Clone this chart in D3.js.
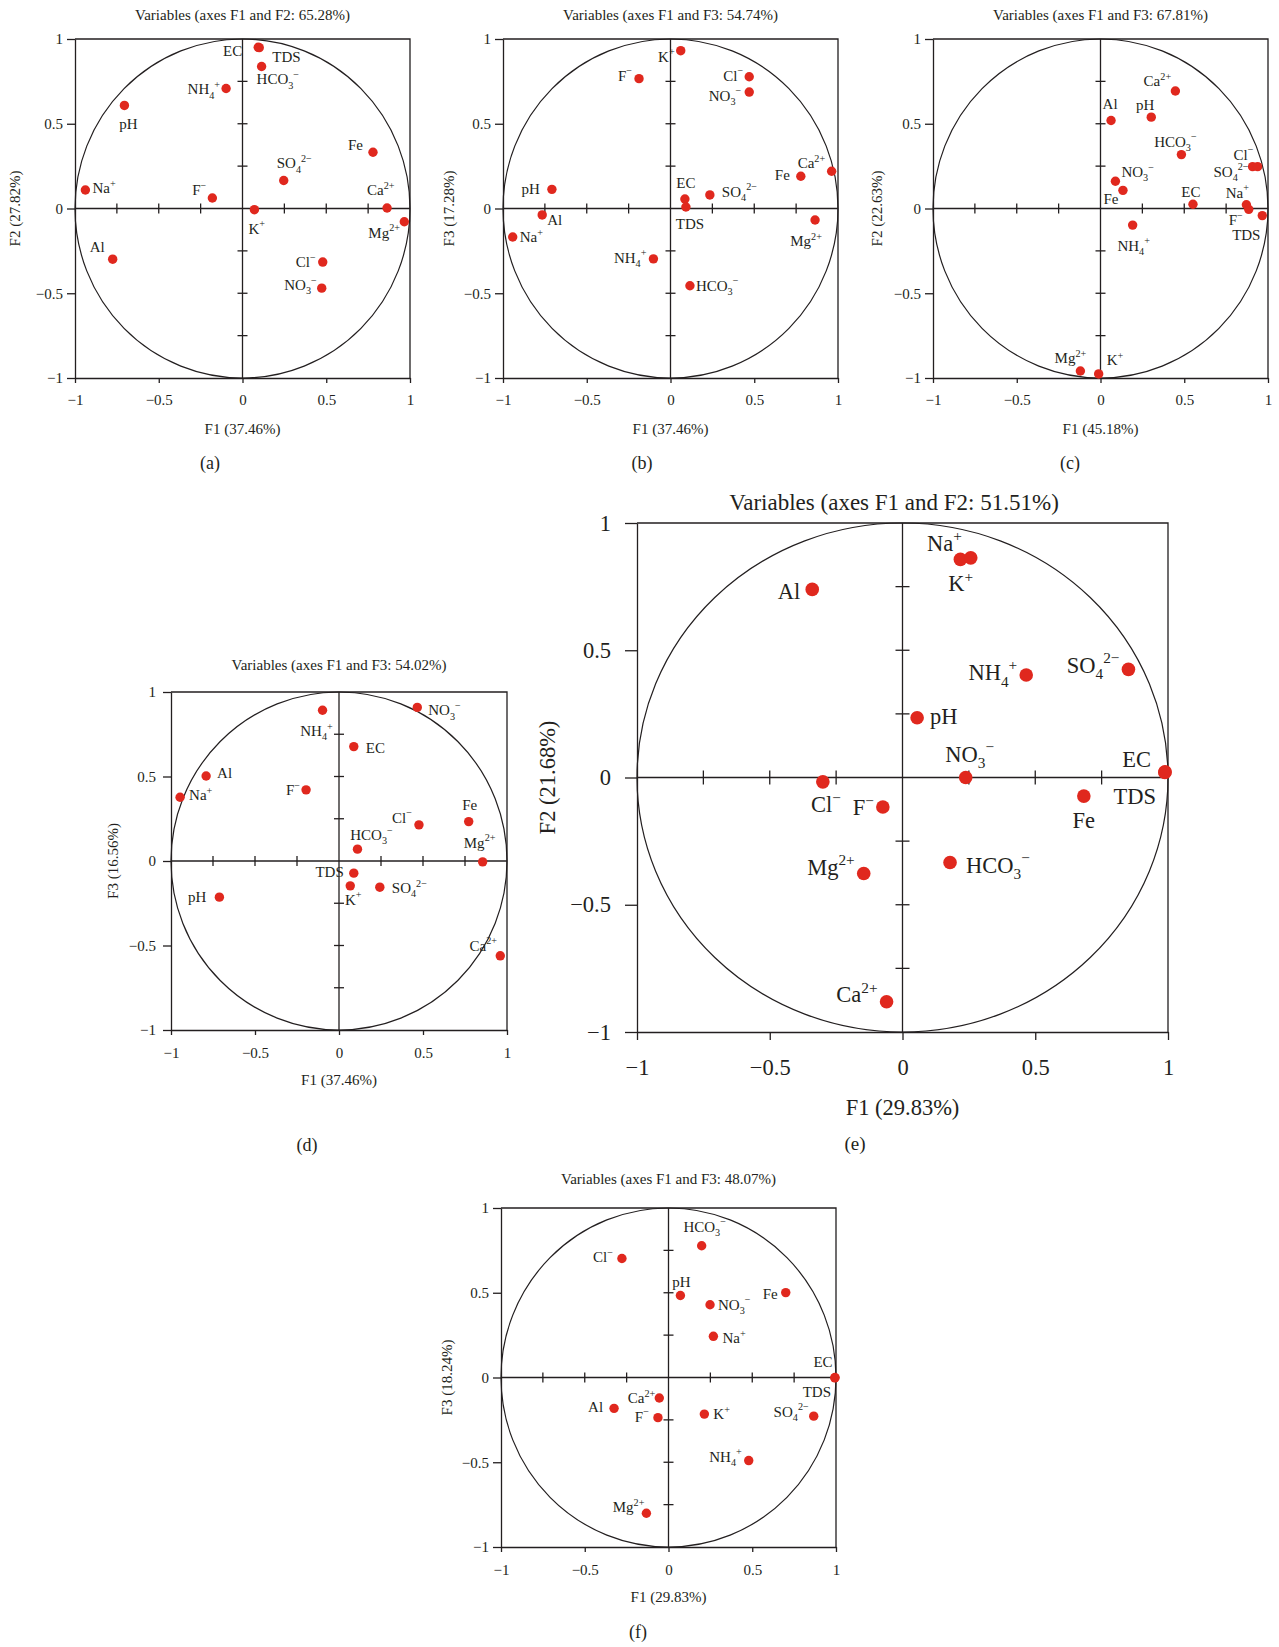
<!DOCTYPE html>
<html><head><meta charset="utf-8">
<script src="https://cdn.jsdelivr.net/npm/d3@7"></script>
<style>
body{margin:0;background:#fff}
svg{display:block;background:#fff}
text{font-family:"Liberation Serif","DejaVu Serif",serif;fill:#231f20}
</style>
</head><body>
<svg id="chart" width="1279" height="1647"></svg>
<script>
// ---------- shared axis values ----------
const tickValues = [-1, -0.5, 0, 0.5, 1];
const tickLabels = ["\u22121", "\u22120.5", "0", "0.5", "1"];
const minorTicks = [-0.75, -0.5, -0.25, 0.25, 0.5, 0.75];

// ---------- panel (a) ----------
const titleA = "Variables (axes F1 and F2: 65.28%)";
const xTitleA = "F1 (37.46%)", yTitleA = "F2 (27.82%)";
const namesA = ["EC","TDS","HCO3−","NH4+","pH","Fe","SO42−","Na+","F−","Ca2+","K+","Mg2+","Al","Cl−","NO3−"];
const f1A = [0.094,0.100,0.114,-0.098,-0.705,0.779,0.246,-0.938,-0.180,0.863,0.071,0.966,-0.775,0.479,0.473];
const f2A = [0.951,0.949,0.838,0.708,0.608,0.332,0.165,0.109,0.062,0.003,-0.007,-0.078,-0.299,-0.316,-0.470];

// ---------- panel (b) ----------
const titleB = "Variables (axes F1 and F3: 54.74%)";
const xTitleB = "F1 (37.46%)", yTitleB = "F3 (17.28%)";
const namesB = ["K+","F−","Cl−","NO3−","Ca2+","Fe","pH","EC","SO42−","TDS","Al","Na+","Mg2+","NH4+","HCO3−"];
const f1B = [0.061,-0.188,0.470,0.470,0.962,0.778,-0.708,0.086,0.235,0.092,-0.766,-0.942,0.863,-0.102,0.116];
const f3B = [0.931,0.766,0.777,0.687,0.220,0.190,0.113,0.056,0.080,0.009,-0.038,-0.168,-0.068,-0.297,-0.456];

// ---------- panel (c) ----------
const titleC = "Variables (axes F1 and F3: 67.81%)";
const xTitleC = "F1 (45.18%)", yTitleC = "F2 (22.63%)";
const namesC = ["Ca2+","Al","pH","HCO3−","Cl−","SO42−","NO3−","Fe","EC","Na+","F−","TDS","NH4+","Mg2+","K+"];
const f1C = [0.447,0.063,0.303,0.483,0.908,0.938,0.089,0.134,0.552,0.871,0.885,0.966,0.192,-0.120,-0.011];
const f2C = [0.693,0.519,0.539,0.318,0.247,0.247,0.161,0.107,0.025,0.022,-0.005,-0.042,-0.098,-0.959,-0.976];

// ---------- panel (d) ----------
const titleD = "Variables (axes F1 and F3: 54.02%)";
const xTitleD = "F1 (37.46%)", yTitleD = "F3 (16.56%)";
const namesD = ["NH4+","NO3−","EC","Al","Na+","F−","Fe","Cl−","HCO3−","Mg2+","TDS","K+","SO42−","pH","Ca2+"];
const f1D = [-0.098,0.466,0.088,-0.791,-0.946,-0.196,0.772,0.476,0.110,0.855,0.088,0.067,0.243,-0.712,0.960];
const f3D = [0.892,0.909,0.677,0.503,0.377,0.421,0.233,0.214,0.070,-0.005,-0.072,-0.147,-0.155,-0.214,-0.561];

// ---------- panel (e) ----------
const titleE = "Variables (axes F1 and F2: 51.51%)";
const xTitleE = "F1 (29.83%)", yTitleE = "F2 (21.68%)";
const namesE = ["Na+","K+","Al","SO42−","NH4+","pH","NO3−","EC","TDS","Fe","Cl−","F−","HCO3−","Mg2+","Ca2+"];
const f1E = [0.218,0.257,-0.340,0.851,0.466,0.055,0.238,0.989,0.988,0.683,-0.300,-0.074,0.179,-0.146,-0.060];
const f2E = [0.857,0.863,0.739,0.425,0.403,0.235,0.000,0.022,0.020,-0.073,-0.017,-0.116,-0.334,-0.377,-0.881];

// ---------- panel (f) ----------
const titleF = "Variables (axes F1 and F3: 48.07%)";
const xTitleF = "F1 (29.83%)", yTitleF = "F3 (18.24%)";
const namesF = ["HCO3−","Cl−","pH","Fe","NO3−","Na+","EC","TDS","Ca2+","Al","F−","K+","SO42−","NH4+","Mg2+"];
const f1F = [0.198,-0.278,0.071,0.700,0.248,0.268,0.994,0.993,-0.055,-0.325,-0.063,0.214,0.867,0.479,-0.132];
const f3F = [0.777,0.702,0.484,0.501,0.429,0.243,0.000,-0.002,-0.121,-0.182,-0.237,-0.216,-0.228,-0.490,-0.801];

// ---------- label placement (layout only) ----------
const labelPosA = [[-16,4,"end"],[13,9,"start"],[-5,13,"start"],[-6,1,"end"],[4,19,"middle"],[-10,-7,"end"],[-7,-17,"start"],[7,-2,"start"],[-6,-8,"end"],[-20,-18,"start"],[-6,19,"start"],[-36,11,"start"],[-8,-12,"end"],[-7,0,"end"],[-5,-3,"end"]];
const labelPosB = [[-6,6,"end"],[-7,-3,"end"],[-6,-1,"end"],[-8,4,"end"],[-34,-8,"start"],[-11,-1,"end"],[-12,0,"end"],[1,-16,"middle"],[12,-3,"start"],[4,17,"middle"],[5,5,"start"],[7,0,"start"],[-9,21,"middle"],[-7,-1,"end"],[6,0,"start"]];
const labelPosC = [[-18,-10,"middle"],[-1,-16,"middle"],[-6,-12,"middle"],[-6,-13,"middle"],[-9,-12,"middle"],[-9,5,"end"],[6,-9,"start"],[-12,9,"middle"],[-2,-12,"middle"],[-9,-12,"middle"],[-13,11,"middle"],[-16,19,"middle"],[1,21,"middle"],[-10,-13,"middle"],[8,-14,"start"]];
const labelPosD = [[-6,21,"middle"],[11,3,"start"],[12,1,"start"],[11,-3,"start"],[9,-2,"start"],[-6,0,"end"],[1,-17,"middle"],[-7,-7,"end"],[14,-14,"middle"],[-3,-19,"middle"],[-10,-1,"end"],[3,14,"middle"],[12,1,"start"],[-13,0,"end"],[-17,-10,"middle"]];
const labelPosE = [[-16,-16,"middle"],[-10,26,"middle"],[-12,2,"end"],[-9,-4,"end"],[-9,-2,"end"],[13,-1,"start"],[4,-23,"middle"],[-14,-12,"end"],[-30,24,"middle"],[0,24,"middle"],[3,23,"middle"],[-9,1,"end"],[16,3,"start"],[-9,-6,"end"],[-9,-7,"end"]];
const labelPosF = [[3,-19,"middle"],[-9,-1,"end"],[1,-13,"middle"],[-8,1,"end"],[8,0,"start"],[9,2,"start"],[-12,-15,"middle"],[-18,14,"middle"],[-4,0,"end"],[-11,-1,"end"],[-9,-1,"end"],[9,0,"start"],[-5,-4,"end"],[-7,-4,"end"],[-2,-6,"end"]];

// panel frames
const small = {fs:15, tfs:15, tagfs:18, r:4.7, tl:8, tlb:5, tyGap:12, inner:5};
const layouts = [
  Object.assign({}, small, {x0:75, x1:410, y0:39, y1:378, titleY:15, tickLabY:400, xLabY:429, tagX:210, tagY:463, yLabX:15, tag:"(a)"}),
  Object.assign({}, small, {x0:503, x1:838, y0:39, y1:378, titleY:15, tickLabY:400, xLabY:429, tagX:642, tagY:463, yLabX:449, tag:"(b)"}),
  Object.assign({}, small, {x0:933, x1:1268, y0:39, y1:378, titleY:15, tickLabY:400, xLabY:429, tagX:1070, tagY:463, yLabX:877, tag:"(c)"}),
  Object.assign({}, small, {x0:171, x1:507, y0:692, y1:1030, titleY:665, tickLabY:1053, xLabY:1080, tagX:307, tagY:1145, yLabX:113, tag:"(d)", tyGap:15}),
  {fs:22.5, tfs:23, tagfs:19, r:6.8, tl:12, tlb:8, tyGap:26, inner:7, x0:637, x1:1168, y0:523, y1:1032, titleY:502, titleX:894, tickLabY:1068, xLabY:1108, tagX:855, tagY:1144, yLabX:548, tag:"(e)"},
  Object.assign({}, small, {x0:501, x1:836, y0:1208, y1:1547, titleY:1179, tickLabY:1570, xLabY:1597, tagX:638, tagY:1632, yLabX:447, tag:"(f)"})
];

const panels = [
  [titleA, xTitleA, yTitleA, namesA, f1A, f2A, labelPosA],
  [titleB, xTitleB, yTitleB, namesB, f1B, f3B, labelPosB],
  [titleC, xTitleC, yTitleC, namesC, f1C, f2C, labelPosC],
  [titleD, xTitleD, yTitleD, namesD, f1D, f3D, labelPosD],
  [titleE, xTitleE, yTitleE, namesE, f1E, f2E, labelPosE],
  [titleF, xTitleF, yTitleF, namesF, f1F, f3F, labelPosF]
];

const chem = {
  "Na+": [["Na"],["+","sup"]],
  "K+": [["K"],["+","sup"]],
  "F−": [["F"],["\u2212","sup"]],
  "Cl−": [["Cl"],["\u2212","sup"]],
  "Ca2+": [["Ca"],["2+","sup"]],
  "Mg2+": [["Mg"],["2+","sup"]],
  "NH4+": [["NH"],["4","sub"],["+","sup"]],
  "HCO3−": [["HCO"],["3","sub"],["\u2212","sup"]],
  "NO3−": [["NO"],["3","sub"],["\u2212","sup"]],
  "SO42−": [["SO"],["4","sub"],["2\u2212","sup"]]
};

const INK = "#231f20", DOT = "#e0281e";
const svg = d3.select("#chart");
svg.append("rect").attr("width",1279).attr("height",1647).attr("fill","#fff");

function drawLabel(g, name, x, y, anchor, fs){
  const t = g.append("text").attr("x", x).attr("y", y + 0.33*fs)
    .attr("text-anchor", anchor).attr("font-size", fs);
  const parts = chem[name] || [[name]];
  let prev = "";
  parts.forEach(([s, type]) => {
    const sp = t.append("tspan").text(s);
    if (type === "sub") {
      sp.attr("font-size", fs*0.68).attr("dy", fs*0.28);
    } else if (type === "sup") {
      sp.attr("font-size", fs*0.68).attr("dy", prev === "sub" ? -fs*0.72 : -fs*0.42);
    }
    prev = type || "";
  });
}

function drawPanel(cfg, p){
  const [title, xTitle, yTitle, names, xs, ys, pos] = p;
  const g = svg.append("g");
  const x = d3.scaleLinear().domain([-1,1]).range([cfg.x0, cfg.x1]);
  const y = d3.scaleLinear().domain([-1,1]).range([cfg.y1, cfg.y0]);
  const fmt = d => tickLabels[tickValues.indexOf(d)];

  // top & right frame lines
  g.append("path").attr("d", `M${cfg.x0},${cfg.y0}H${cfg.x1}V${cfg.y1}`)
    .attr("fill","none").attr("stroke",INK).attr("stroke-width",1.3);

  // left axis
  const ga = g.append("g").attr("transform", `translate(${cfg.x0},0)`)
    .call(d3.axisLeft(y).tickValues(tickValues).tickFormat(fmt).tickSizeInner(cfg.tl).tickSizeOuter(0).tickPadding(cfg.tyGap - cfg.tl));
  // bottom axis
  const gb = g.append("g").attr("transform", `translate(0,${cfg.y1})`)
    .call(d3.axisBottom(x).tickValues(tickValues).tickFormat(fmt).tickSizeInner(cfg.tlb).tickSizeOuter(0));
  [ga, gb].forEach(a => {
    a.attr("font-family", null).attr("font-size", null);
    a.selectAll("path,line").attr("stroke", INK).attr("stroke-width", 1.3);
    a.selectAll("text").attr("font-size", cfg.fs).attr("fill", INK);
  });
  gb.selectAll(".tick text").attr("y", cfg.tickLabY - cfg.y1).attr("dy", "0.33em");

  // correlation circle
  g.append("ellipse").attr("cx", x(0)).attr("cy", y(0))
    .attr("rx", x(1) - x(0)).attr("ry", y(-1) - y(0))
    .attr("fill","none").attr("stroke",INK).attr("stroke-width",1.2);

  // zero lines
  g.append("line").attr("x1", x(-1)).attr("x2", x(1)).attr("y1", y(0)).attr("y2", y(0))
    .attr("stroke",INK).attr("stroke-width",1.3);
  g.append("line").attr("x1", x(0)).attr("x2", x(0)).attr("y1", y(-1)).attr("y2", y(1))
    .attr("stroke",INK).attr("stroke-width",1.3);
  // inner ticks
  g.selectAll(".mx").data(minorTicks).join("line")
    .attr("x1", d => x(d)).attr("x2", d => x(d))
    .attr("y1", y(0) - cfg.inner).attr("y2", y(0) + cfg.inner)
    .attr("stroke",INK).attr("stroke-width",1.3);
  g.selectAll(".my").data(minorTicks).join("line")
    .attr("y1", d => y(d)).attr("y2", d => y(d))
    .attr("x1", x(0) - cfg.inner).attr("x2", x(0) + cfg.inner)
    .attr("stroke",INK).attr("stroke-width",1.3);

  // points
  g.selectAll("circle.pt").data(names).join("circle").attr("class","pt")
    .attr("cx", (d,i) => x(xs[i])).attr("cy", (d,i) => y(ys[i]))
    .attr("r", cfg.r).attr("fill", DOT);

  // labels
  names.forEach((n, i) => {
    const [dx, dy, anchor] = pos[i];
    drawLabel(g, n, x(xs[i]) + dx, y(ys[i]) + dy, anchor, cfg.fs);
  });

  // titles
  const cx = (cfg.x0 + cfg.x1) / 2, cy = (cfg.y0 + cfg.y1) / 2;
  g.append("text").attr("x", cfg.titleX || cx).attr("y", cfg.titleY).attr("dy","0.33em")
    .attr("text-anchor","middle").attr("font-size", cfg.tfs).text(title);
  g.append("text").attr("x", cx).attr("y", cfg.xLabY).attr("dy","0.33em")
    .attr("text-anchor","middle").attr("font-size", cfg.fs).text(xTitle);
  g.append("text").attr("transform", `translate(${cfg.yLabX},${cy}) rotate(-90)`).attr("dy","0.33em")
    .attr("text-anchor","middle").attr("font-size", cfg.fs).text(yTitle);
  g.append("text").attr("x", cfg.tagX).attr("y", cfg.tagY).attr("dy","0.33em")
    .attr("text-anchor","middle").attr("font-size", cfg.tagfs).text(cfg.tag);
}

panels.forEach((p, i) => drawPanel(layouts[i], p));
</script>
</body></html>
